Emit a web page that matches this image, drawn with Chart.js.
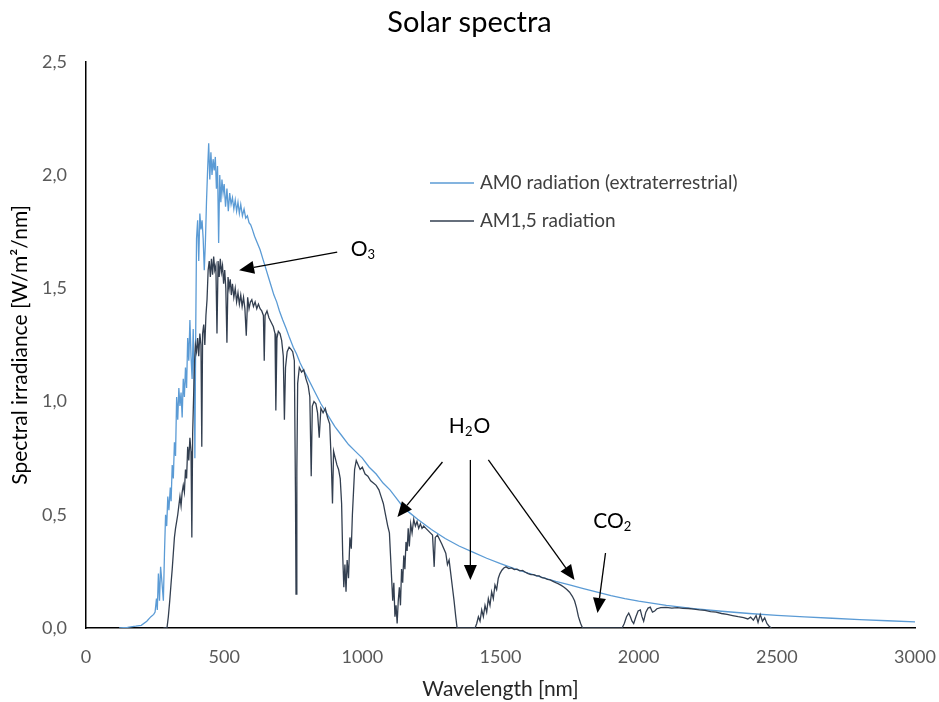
<!DOCTYPE html>
<html lang="en">
<head>
  <meta charset="UTF-8">
  <title>Solar spectra</title>
  <script src="https://cdn.jsdelivr.net/npm/chart.js"></script>
  <style>
    html, body { margin: 0; padding: 0; background: #fff; }
    .chart-container { width: 939px; height: 702px; }
  </style>
</head>
<body>
  <div class="chart-container">
    <canvas id="spectraChart"></canvas>
  </div>

  <script>
    // [wavelength nm, irradiance W/m2/nm]
    const am0Data = [
      [120,0],[150,0.003],[180,0.008],[200,0.012],[220,0.03],[235,0.05],[245,0.06],[250,0.07],[255,0.13],[258,0.08],
      [262,0.24],[266,0.12],[270,0.27],[275,0.2],[280,0.12],[284,0.33],[288,0.5],[292,0.45],[296,0.58],[300,0.52],
      [305,0.62],[308,0.56],[312,0.72],[316,0.66],[320,0.82],[324,0.76],[328,1.02],[332,0.92],[336,1.06],[340,0.98],
      [344,1.04],[348,0.93],[352,1.1],[356,1.02],[360,1.15],[364,1.06],[368,1.28],[372,1.18],[376,1.36],[380,1.2],
      [384,1.1],[388,1.32],[392,1.05],[394,0.75],[397,1.3],[400,1.72],[404,1.8],[408,1.62],[412,1.83],[416,1.76],
      [420,1.8],[424,1.72],[428,1.58],[432,1.7],[436,1.88],[440,2.02],[444,2.14],[448,1.98],[452,2.1],[456,2.0],
      [460,2.07],[464,2.02],[468,2.08],[472,1.94],[476,2.04],[480,1.7],[484,2.0],[488,1.88],[492,1.98],[496,1.92],
      [500,1.96],[505,1.86],[510,1.94],[515,1.84],[520,1.92],[525,1.87],[530,1.9],[535,1.85],[540,1.89],[545,1.84],
      [550,1.88],[555,1.83],[560,1.87],[566,1.82],[572,1.85],[578,1.81],[584,1.82],[590,1.79],[596,1.78],[602,1.76],
      [610,1.73],[620,1.7],[630,1.67],[640,1.63],[650,1.59],[660,1.55],[670,1.51],[680,1.47],[690,1.44],[700,1.4],
      [712,1.36],[725,1.32],[737,1.28],[750,1.24],[762,1.21],[775,1.17],[787,1.14],[800,1.11],[825,1.05],[850,0.99],
      [875,0.94],[900,0.89],[925,0.85],[950,0.81],[975,0.78],[1000,0.75],[1025,0.71],[1050,0.68],[1075,0.64],[1100,0.61],
      [1125,0.57],[1150,0.53],[1175,0.505],[1200,0.48],[1250,0.435],[1300,0.395],[1350,0.362],[1400,0.335],[1450,0.308],[1500,0.284],
      [1550,0.262],[1600,0.242],[1650,0.224],[1700,0.206],[1750,0.19],[1800,0.174],[1850,0.158],[1900,0.143],[1950,0.13],[2000,0.119],
      [2100,0.1],[2200,0.086],[2300,0.074],[2400,0.064],[2500,0.056],[2600,0.049],[2700,0.043],[2800,0.037],[2900,0.032],[3000,0.027]
    ];

    const am15Data = [
      [280,0],[293,0],[298,0.05],[303,0.12],[308,0.2],[312,0.26],[316,0.33],[320,0.4],[324,0.44],[328,0.47],
      [332,0.5],[336,0.54],[340,0.58],[344,0.54],[348,0.6],[352,0.63],[356,0.6],[360,0.7],[364,0.66],[368,0.8],
      [372,0.74],[376,0.84],[380,0.78],[383,0.4],[386,0.86],[390,1.05],[393,1.18],[396,1.25],[400,1.22],[404,1.28],
      [408,1.2],[412,1.3],[416,1.25],[419,0.8],[422,1.3],[426,1.34],[430,1.25],[434,1.38],[438,1.45],[442,1.58],
      [446,1.62],[450,1.55],[454,1.63],[458,1.56],[462,1.64],[466,1.58],[470,1.6],[474,1.3],[478,1.62],[482,1.55],
      [486,1.63],[490,1.57],[494,1.6],[498,1.52],[502,1.58],[506,1.5],[510,1.26],[514,1.55],[518,1.5],[522,1.54],
      [526,1.47],[530,1.52],[535,1.46],[540,1.5],[545,1.44],[550,1.48],[555,1.43],[560,1.47],[565,1.42],[570,1.46],
      [575,1.41],[580,1.29],[585,1.46],[590,1.41],[595,1.44],[600,1.45],[606,1.42],[612,1.44],[618,1.41],[624,1.43],
      [630,1.41],[636,1.4],[642,1.38],[645,1.18],[648,1.38],[655,1.4],[662,1.37],[670,1.35],[678,1.33],[684,1.3],
      [687,0.96],[691,1.28],[696,1.31],[702,1.3],[708,1.27],[714,1.2],[718,0.92],[722,1.15],[728,1.22],[735,1.24],
      [742,1.23],[748,1.22],[754,1.18],[758,0.6],[760,0.15],[763,0.7],[766,1.08],[772,1.15],[780,1.13],[788,1.14],
      [796,1.1],[804,1.07],[810,1.02],[815,0.67],[819,0.98],[825,1.0],[832,0.99],[838,0.95],[844,0.84],[850,0.97],
      [858,0.95],[866,0.97],[874,0.93],[882,0.9],[888,0.72],[892,0.55],[896,0.78],[902,0.75],[908,0.72],[914,0.7],
      [920,0.66],[925,0.55],[929,0.32],[933,0.18],[937,0.28],[941,0.16],[945,0.3],[950,0.22],[955,0.4],[960,0.35],
      [964,0.5],[968,0.6],[972,0.7],[978,0.74],[985,0.72],[992,0.7],[1000,0.71],[1010,0.68],[1020,0.67],[1030,0.65],
      [1040,0.64],[1050,0.63],[1060,0.61],[1068,0.58],[1076,0.55],[1084,0.5],[1092,0.45],[1098,0.42],[1102,0.32],[1106,0.22],
      [1110,0.12],[1114,0.2],[1118,0.05],[1122,0.1],[1126,0.02],[1130,0.12],[1134,0.18],[1138,0.1],[1142,0.26],[1146,0.2],
      [1150,0.32],[1154,0.26],[1158,0.38],[1162,0.34],[1166,0.44],[1170,0.36],[1175,0.46],[1180,0.42],[1186,0.48],[1192,0.45],
      [1198,0.47],[1204,0.44],[1210,0.46],[1216,0.44],[1222,0.45],[1230,0.44],[1238,0.43],[1246,0.42],[1254,0.41],[1260,0.27],
      [1264,0.4],[1272,0.41],[1280,0.39],[1288,0.37],[1295,0.35],[1302,0.33],[1308,0.28],[1314,0.3],[1320,0.24],[1326,0.18],
      [1332,0.12],[1338,0.05],[1343,0],[1408,0],[1414,0.02],[1420,0.05],[1426,0.03],[1432,0.08],[1438,0.05],[1444,0.1],
      [1450,0.07],[1456,0.13],[1462,0.1],[1468,0.16],[1474,0.13],[1480,0.19],[1486,0.17],[1492,0.22],[1498,0.24],[1505,0.255],
      [1512,0.265],[1520,0.27],[1530,0.262],[1540,0.265],[1550,0.258],[1560,0.26],[1570,0.252],[1580,0.254],[1590,0.246],[1600,0.24],
      [1610,0.236],[1620,0.236],[1630,0.23],[1640,0.23],[1650,0.222],[1660,0.22],[1670,0.215],[1680,0.212],[1690,0.206],[1700,0.2],
      [1710,0.195],[1720,0.188],[1730,0.18],[1740,0.17],[1750,0.158],[1760,0.14],[1768,0.12],[1775,0.09],[1782,0.05],[1790,0.02],
      [1797,0],[1940,0],[1948,0.02],[1956,0.05],[1964,0.066],[1970,0.05],[1976,0.03],[1982,0.02],[1990,0.05],[1998,0.075],
      [2006,0.08],[2012,0.05],[2018,0.03],[2026,0.07],[2034,0.088],[2042,0.092],[2050,0.07],[2058,0.075],[2066,0.085],[2080,0.09],
      [2100,0.091],[2120,0.088],[2140,0.09],[2160,0.087],[2180,0.086],[2200,0.083],[2220,0.08],[2240,0.078],[2260,0.072],[2280,0.07],
      [2300,0.064],[2320,0.06],[2340,0.055],[2360,0.05],[2380,0.046],[2395,0.04],[2405,0.048],[2415,0.035],[2425,0.055],[2432,0.025],
      [2440,0.06],[2448,0.03],[2456,0.045],[2464,0.02],[2472,0.008],[2480,0]
    ];

    const seriesLabels = ['AM0 radiation (extraterrestrial)', 'AM1,5 radiation'];
    const seriesColors = ['#5b9bd5', '#333f50'];

    // annotation arrows and labels, in data units
    const annotationArrows = [
      { from: [909, 1.66], to: [554, 1.58] },
      { from: [1290, 0.733], to: [1127, 0.49] },
      { from: [1391, 0.742], to: [1391, 0.212] },
      { from: [1456, 0.742], to: [1768, 0.212] },
      { from: [1880, 0.331], to: [1851, 0.066] }
    ];
    const annotationLabels = [
      { parts: [['O', false], ['3', true]], at: [1004, 1.674] },
      { parts: [['H', false], ['2', true], ['O', false]], at: [1388, 0.892] },
      { parts: [['CO', false], ['2', true]], at: [1906, 0.473] }
    ];

    const FONT = 'Lato, "Open Sans", sans-serif';

    function toPoints(pairs) {
      return pairs.map(p => ({ x: p[0], y: p[1] }));
    }

    // legend drawn inside the plot, like the original
    const insideLegend = {
      id: 'insideLegend',
      afterDraw(chart) {
        const ctx = chart.ctx;
        ctx.save();
        ctx.font = '19px ' + FONT;
        ctx.textBaseline = 'middle';
        ctx.fillStyle = '#404040';
        chart.data.datasets.forEach((ds, i) => {
          const y = 183 + i * 38;
          ctx.strokeStyle = ds.borderColor;
          ctx.lineWidth = 1.5;
          ctx.beginPath();
          ctx.moveTo(430, y);
          ctx.lineTo(474, y);
          ctx.stroke();
          ctx.fillText(ds.label, 480, y);
        });
        ctx.restore();
      }
    };

    const annotations = {
      id: 'annotations',
      afterDatasetsDraw(chart) {
        const ctx = chart.ctx;
        const xs = chart.scales.x;
        const ys = chart.scales.y;
        ctx.save();
        ctx.strokeStyle = '#000';
        ctx.fillStyle = '#000';
        ctx.lineWidth = 1.3;

        annotationArrows.forEach(a => {
          const x1 = xs.getPixelForValue(a.from[0]), y1 = ys.getPixelForValue(a.from[1]);
          const x2 = xs.getPixelForValue(a.to[0]), y2 = ys.getPixelForValue(a.to[1]);
          const ang = Math.atan2(y2 - y1, x2 - x1);
          const len = 15, half = 6.5;
          const bx = x2 - len * Math.cos(ang), by = y2 - len * Math.sin(ang);
          ctx.beginPath();
          ctx.moveTo(x1, y1);
          ctx.lineTo(bx, by);
          ctx.stroke();
          ctx.beginPath();
          ctx.moveTo(x2, y2);
          ctx.lineTo(bx + half * Math.sin(ang), by - half * Math.cos(ang));
          ctx.lineTo(bx - half * Math.sin(ang), by + half * Math.cos(ang));
          ctx.closePath();
          ctx.fill();
        });

        ctx.textBaseline = 'middle';
        ctx.textAlign = 'left';
        annotationLabels.forEach(l => {
          const cx = xs.getPixelForValue(l.at[0]);
          const cy = ys.getPixelForValue(l.at[1]);
          let total = 0;
          l.parts.forEach(p => {
            ctx.font = (p[1] ? '13px ' : '21px ') + FONT;
            total += ctx.measureText(p[0]).width + (p[1] ? 1 : 0);
          });
          let x = cx - total / 2;
          l.parts.forEach(p => {
            ctx.font = (p[1] ? '13px ' : '21px ') + FONT;
            ctx.fillText(p[0], x, p[1] ? cy + 6 : cy);
            x += ctx.measureText(p[0]).width + (p[1] ? 1 : 0);
          });
        });
        ctx.restore();
      }
    };

    const ctx = document.getElementById('spectraChart').getContext('2d');
    new Chart(ctx, {
      type: 'line',
      data: {
        datasets: [
          {
            label: seriesLabels[0],
            data: toPoints(am0Data),
            borderColor: seriesColors[0],
            borderWidth: 1.3,
            pointRadius: 0,
            tension: 0,
            fill: false,
            order: 1
          },
          {
            label: seriesLabels[1],
            data: toPoints(am15Data),
            borderColor: seriesColors[1],
            borderWidth: 1.3,
            pointRadius: 0,
            tension: 0,
            fill: false,
            order: 0
          }
        ]
      },
      options: {
        responsive: true,
        maintainAspectRatio: false,
        animation: false,
        layout: { padding: 0 },
        scales: {
          x: {
            type: 'linear',
            min: 0,
            max: 3000,
            afterFit: scale => {
              scale.height = 74;
              scale.paddingRight = 24; // keeps the plot's right edge at 915px, title stays centred on the page
            },
            grid: { display: false, drawTicks: false },
            border: { display: true, color: '#000', width: 1.5 },
            ticks: {
              stepSize: 500,
              padding: 18,
              color: '#595959',
              font: { family: FONT, size: 18 },
              callback: v => String(v)
            },
            title: {
              display: true,
              text: 'Wavelength [nm]',
              color: '#262626',
              font: { family: FONT, size: 21 },
              padding: { top: 4, bottom: 0 }
            }
          },
          y: {
            min: 0,
            max: 2.5,
            afterFit: scale => { scale.width = 86; },
            grid: { display: false, drawTicks: false },
            border: { display: true, color: '#000', width: 1.5 },
            ticks: {
              stepSize: 0.5,
              padding: 19,
              color: '#595959',
              font: { family: FONT, size: 18 },
              callback: v => v.toFixed(1).replace('.', ',')
            },
            title: {
              display: true,
              text: 'Spectral irradiance [W/m²/nm]',
              color: '#000',
              font: { family: FONT, size: 21 },
              padding: { top: 8, bottom: 0 }
            }
          }
        },
        plugins: {
          legend: { display: false },
          tooltip: { enabled: false },
          title: {
            display: true,
            text: 'Solar spectra',
            color: '#000',
            font: { family: FONT, size: 29, weight: 'normal' },
            padding: { top: 5, bottom: 22 }
          }
        }
      },
      plugins: [annotations, insideLegend]
    });
  </script>
</body>
</html>
